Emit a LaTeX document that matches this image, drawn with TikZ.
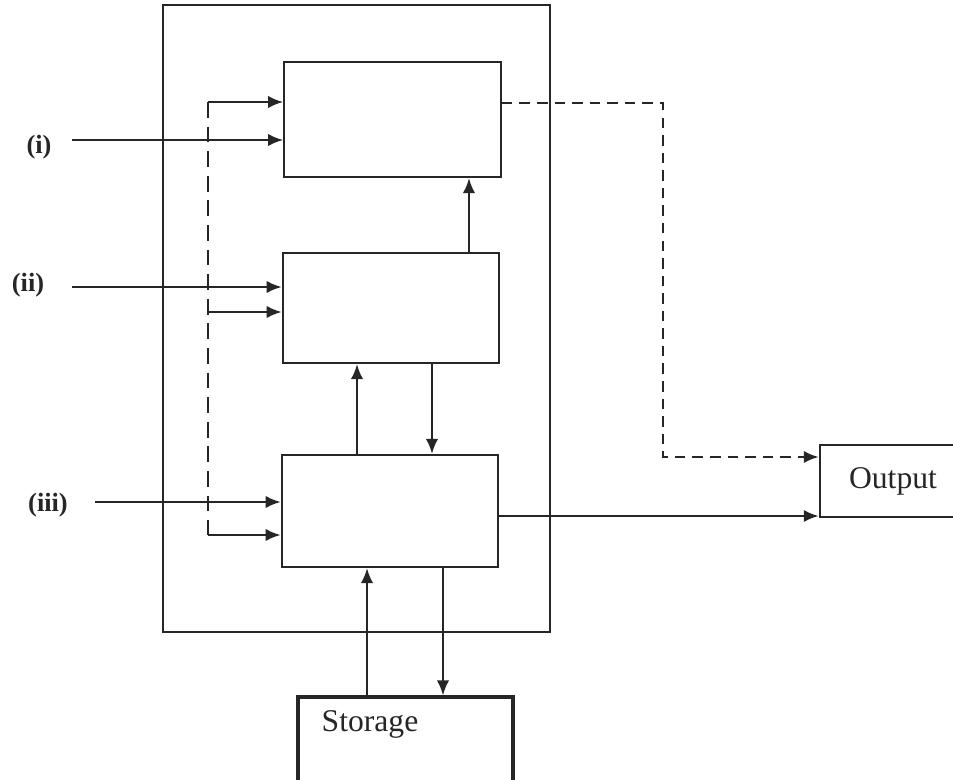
\documentclass[tikz,border=0pt]{standalone}
\usepackage{fontspec}
\setmainfont{Liberation Serif}
\usetikzlibrary{arrows.meta}

\begin{document}
\begin{tikzpicture}[x=0.02cm, y=-0.02cm, line width=1.25pt, color=black!85,
  every node/.style={font=\fontsize{18}{20}\selectfont},
  blk/.style={draw, rectangle, inner sep=0pt, minimum width=4.33cm},
  arr/.style={-{Latex[length=8.5pt,width=7pt]}},
  lbl/.style={font=\fontsize{15}{17}\selectfont\bfseries},
  dashL/.style={dash pattern=on 9pt off 5pt},
  dashR/.style={dash pattern=on 6pt off 4pt}]
\useasboundingbox (0,0) rectangle (953,780);
\draw (163,5) rectangle (550,632);
\node[blk, minimum height=2.3cm] (A) at (392.5,119.5) {};
\node[blk, minimum height=2.2cm] (B) at (391,308) {};
\node[blk, minimum height=2.24cm] (C) at (390,511) {};
\node[blk, line width=1.8pt, minimum width=4.3cm, minimum height=2.06cm] (store) at (405.5,748.5) {};
\node (storetxt) at (370,724) {Storage};
\node[blk, line width=1.5pt, minimum width=2.92cm, minimum height=1.44cm] (out) at (893,481) {Output};
\node[lbl] (lbl1) at (39,147) {(i)};
\node[lbl] (lbl2) at (28,285) {(ii)};
\node[lbl] (lbl3) at (48,505) {(iii)};
\coordinate (in1) at (72,140);
\coordinate (in2) at (72,287);
\coordinate (in3) at (95,502);
\draw[arr] (in1) -- (in1 -| A.west);
\draw[arr] (in2) -- (in2 -| B.west);
\draw[arr] (in3) -- (in3 -| C.west);
\coordinate (dtop) at (208,102);
\coordinate (dmid) at (208,312);
\coordinate (dbot) at (208,535);
\draw[dashL] (dtop) -- (dbot);
\draw[arr] (dtop) -- (dtop -| A.west);
\draw[arr] (dmid) -- (dmid -| B.west);
\draw[arr] (dbot) -- (dbot -| C.west);
\draw[arr] ([xshift=1.56cm]B.north) -- ([xshift=1.56cm]B.north |- A.south);
\draw[arr] ([xshift=-0.66cm]C.north) -- ([xshift=-0.66cm]C.north |- B.south);
\draw[arr] ([xshift=0.82cm]B.south) -- ([xshift=0.82cm]B.south |- C.north);
\draw[arr] ([xshift=-0.77cm]store.north) -- ([xshift=-0.77cm]store.north |- C.south);
\draw[arr] ([xshift=1.06cm]C.south) -- ([xshift=1.06cm]C.south |- store.north);
\draw[arr] ([yshift=-0.1cm]C.east) -- ([yshift=-0.1cm]C.east -| out.west);
\coordinate (dturn) at (663,457);
\draw[arr, dashR] ([yshift=0.33cm]A.east) -| (dturn) -- (dturn -| out.west);
\end{tikzpicture}
\end{document}
